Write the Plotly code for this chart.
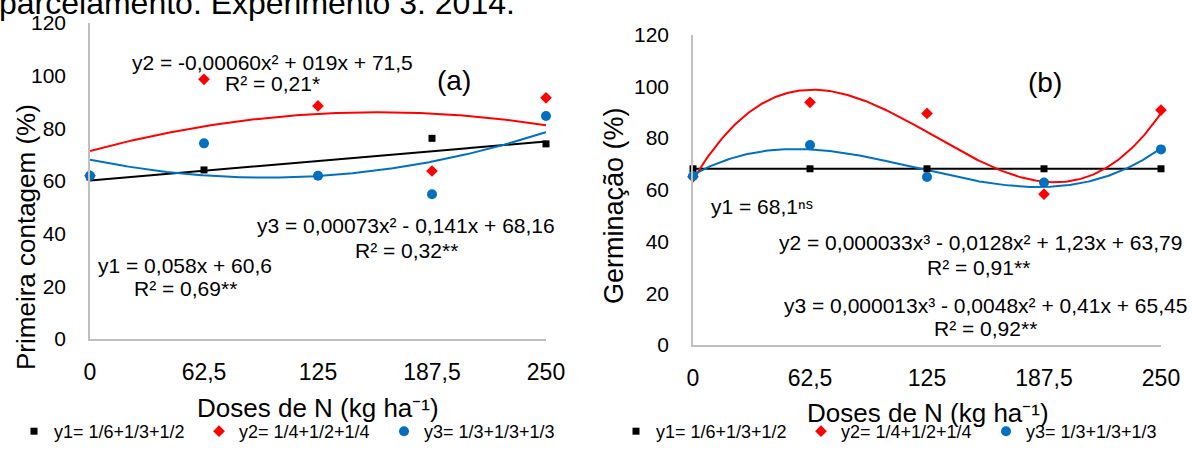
import numpy as np
import plotly.graph_objects as go

W, H = 1192, 450
FONT = "Liberation Sans, Arial, sans-serif"

# ---------------- data ----------------
doses = [0, 62.5, 125, 187.5, 250]
dose_labels = ["0", "62,5", "125", "187,5", "250"]
y_ticks = [0, 20, 40, 60, 80, 100, 120]

# (a) Primeira contagem (%)
a_y1 = [61.5, 64.2, 62.0, 76.2, 74.1]
a_y2 = [62.0, 98.6, 88.5, 63.8, 91.6]
a_y3 = [62.0, 74.3, 62.0, 55.0, 84.7]

# (b) Germinação (%)
b_y1 = [68.1, 68.1, 68.1, 68.1, 68.1]
b_y2 = [65.0, 93.8, 89.5, 58.3, 90.8]
b_y3 = [65.3, 77.3, 64.9, 62.8, 75.6]

series_names = ["y1= 1/6+1/3+1/2", "y2= 1/4+1/2+1/4", "y3= 1/3+1/3+1/3"]
a_degrees = [1, 2, 2]
b_degrees = [0, 3, 3]

colors = ["#000000", "#FF0000", "#0070C0"]
symbols = ["square", "diamond", "circle"]
msizes = [7, 9, 10]

fig = go.Figure()

panels = [
    ("x", "y", "legend", [a_y1, a_y2, a_y3], a_degrees),
    ("x2", "y2", "legend2", [b_y1, b_y2, b_y3], b_degrees),
]

xs = np.linspace(0, 250, 251)
# trendlines (polynomial fits of the data)
for xa, ya, lg, ys, degs in panels:
    for i, (yv, dg) in enumerate(zip(ys, degs)):
        coef = np.polyfit(doses, yv, dg)
        fig.add_trace(go.Scatter(
            x=xs, y=np.polyval(coef, xs), mode="lines",
            line=dict(color=colors[i], width=2), xaxis=xa, yaxis=ya,
            showlegend=False, hoverinfo="skip", cliponaxis=False))
# data markers
for xa, ya, lg, ys, degs in panels:
    for i, yv in enumerate(ys):
        fig.add_trace(go.Scatter(
            x=doses, y=yv, mode="markers", name=series_names[i],
            marker=dict(color=colors[i], symbol=symbols[i], size=msizes[i],
                        line=dict(width=0)),
            xaxis=xa, yaxis=ya, legend=lg, cliponaxis=False))

axis_common = dict(showgrid=False, zeroline=False, showline=True,
                   linecolor="#BFBFBF", linewidth=1.5, ticks="outside",
                   tickcolor="rgba(0,0,0,0)", fixedrange=True, automargin=False)

def px(x):
    return x / W

def py(y):
    return 1 - y / H

legend_common = dict(orientation="h", xanchor="left", yanchor="bottom", y=0,
                     font=dict(size=18, family=FONT, color="#000000"),
                     entrywidth=140, entrywidthmode="pixels",
                     bgcolor="rgba(0,0,0,0)", itemclick=False,
                     itemdoubleclick=False)

fig.update_layout(
    width=W, height=H,
    margin=dict(l=0, r=0, t=0, b=0, pad=0),
    paper_bgcolor="white", plot_bgcolor="white",
    font=dict(family=FONT, color="#000000"),
    xaxis=dict(domain=[px(90), px(546)], range=[0, 250], tickvals=doses,
               ticktext=dose_labels, anchor="y", ticklen=12,
               tickfont=dict(size=23), **axis_common),
    yaxis=dict(domain=[py(339), py(23)], range=[0, 120], tickvals=y_ticks,
               anchor="x", ticklen=18, tickfont=dict(size=21), **axis_common),
    xaxis2=dict(domain=[px(693), px(1161)], range=[0, 250], tickvals=doses,
                ticktext=dose_labels, anchor="y2", ticklen=12,
                tickfont=dict(size=23), **axis_common),
    yaxis2=dict(domain=[py(345), py(34.5)], range=[0, 120], tickvals=y_ticks,
                anchor="x2", ticklen=18, tickfont=dict(size=21), **axis_common),
    legend=dict(x=px(14), **legend_common),
    legend2=dict(x=px(616), **legend_common),
    showlegend=True,
)

EQ = 21
ann = [
    # caption cut at the top of the picture
    dict(text="parcelamento. Experimento 3. 2014.", x=-3, y=3, size=32, xanchor="left"),
    # panel (a)
    dict(text="y2 = -0,00060x² + 019x + 71,5", x=272, y=62, size=EQ),
    dict(text="R² = 0,21*", x=272, y=84, size=EQ),
    dict(text="(a)", x=454, y=80, size=28),
    dict(text="y3 = 0,00073x² - 0,141x + 68,16", x=406, y=225, size=EQ),
    dict(text="R² = 0,32**", x=406, y=250, size=EQ),
    dict(text="y1 = 0,058x + 60,6", x=185, y=265, size=EQ),
    dict(text="R² = 0,69**", x=185, y=288, size=EQ),
    # panel (b)
    dict(text="(b)", x=1045, y=82, size=28),
    dict(text="y1 = 68,1ⁿˢ", x=709, y=207, size=EQ, xanchor="left"),
    dict(text="y2 = 0,000033x³ - 0,0128x² + 1,23x + 63,79", x=980, y=242, size=EQ),
    dict(text="R² = 0,91**", x=978, y=267, size=EQ),
    dict(text="y3 = 0,000013x³ - 0,0048x² + 0,41x + 65,45", x=985, y=305, size=EQ),
    dict(text="R² = 0,92**", x=985, y=328, size=EQ),
    # axis titles
    dict(text="Doses de N (kg ha⁻¹)", x=318, y=408, size=26),
    dict(text="Doses de N (kg ha⁻¹)", x=928, y=413, size=26),
    dict(text="Primeira contagem (%)", x=26, y=237, size=26, angle=-90),
    dict(text="Germinação (%)", x=614, y=206, size=27, angle=-90),
]
for a in ann:
    fig.add_annotation(
        text=a["text"], xref="paper", yref="paper", x=px(a["x"]), y=py(a["y"]),
        xanchor=a.get("xanchor", "center"), yanchor="middle", showarrow=False,
        textangle=a.get("angle", 0), font=dict(size=a["size"], family=FONT, color="#000000"))

fig.write_html("out.html", config={"displayModeBar": False},
               post_script="document.body.style.margin='0';document.body.style.padding='0';")
